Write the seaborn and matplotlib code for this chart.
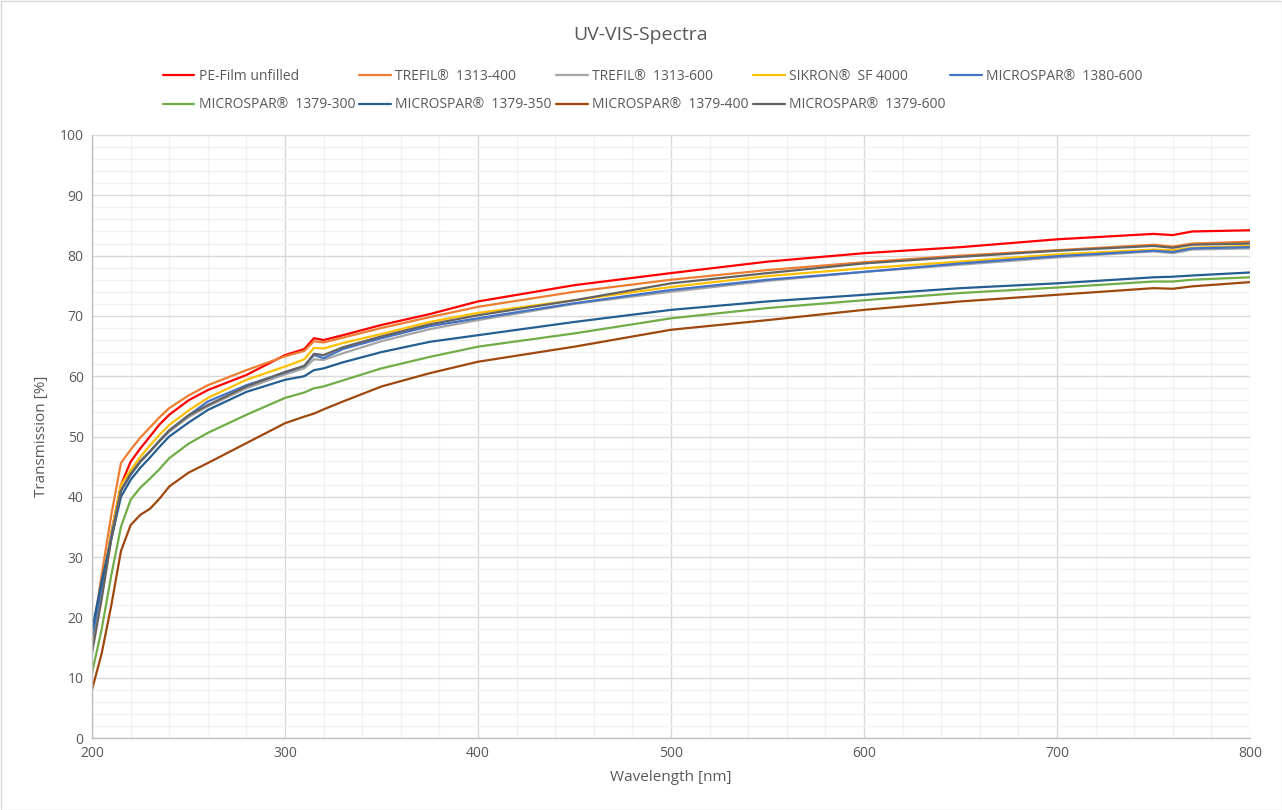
import pandas as pd
import matplotlib.pyplot as plt
import seaborn as sns
from matplotlib.ticker import MultipleLocator
from matplotlib.patches import Rectangle

wavelength = [200, 205, 210, 215, 220, 225, 230, 235, 240, 250, 260, 280, 300, 310, 315, 320, 330,
              350, 375, 400, 450, 500, 550, 600, 650, 700, 750, 760, 770, 800]

pe_film = [15, 24, 34, 42, 45.8, 48, 50, 52, 53.6, 56, 57.7, 60.2, 63.5, 64.5, 66.3, 66, 66.8,
           68.5, 70.3, 72.4, 75.1, 77.1, 79, 80.4, 81.4, 82.7, 83.6, 83.4, 84, 84.2]
trefil_400 = [16.5, 27, 37, 45.6, 47.8, 49.8, 51.5, 53.2, 54.7, 56.8, 58.5, 61, 63.3, 64.2, 65.8, 65.6, 66.4,
              68, 69.8, 71.5, 74, 76, 77.6, 78.9, 80, 80.9, 81.8, 81.5, 82, 82.3]
trefil_600 = [15.5, 24, 33, 41, 44, 46, 47.5, 49.2, 50.8, 53.2, 55, 58, 60.3, 61.3, 62.8, 62.7, 63.8,
              65.8, 67.8, 69.3, 72, 74, 75.8, 77.3, 78.5, 79.7, 80.7, 80.4, 81, 81.2]
sikron = [16.2, 25, 34, 42, 44.4, 46.6, 48.5, 50.3, 51.9, 54.3, 56.4, 59.4, 61.6, 62.8, 64.7, 64.6, 65.5,
          67, 69, 70.5, 72.6, 74.8, 76.6, 77.9, 79, 80.2, 81, 80.9, 81.3, 81.6]
micro_1380_600 = [16.5, 25, 33.5, 41, 43.6, 45.8, 47.5, 49.3, 51, 53.5, 55.8, 58.5, 60.6, 61.7, 63.5, 63, 64.5,
                  66.3, 68.3, 69.6, 72.1, 74.3, 76, 77.3, 78.7, 79.9, 80.8, 80.6, 81.2, 81.4]
micro_1379_300 = [10.8, 18, 27, 35, 39.5, 41.5, 43, 44.6, 46.4, 48.8, 50.6, 53.6, 56.4, 57.3, 58, 58.3, 59.3,
                  61.3, 63.2, 64.9, 67.1, 69.6, 71.3, 72.6, 73.8, 74.7, 75.7, 75.7, 76, 76.4]
micro_1379_350 = [17.9, 26, 33, 40, 42.8, 44.8, 46.5, 48.3, 50, 52.3, 54.4, 57.4, 59.4, 60, 61, 61.3, 62.3,
                  64, 65.7, 66.8, 69, 71, 72.4, 73.5, 74.6, 75.4, 76.4, 76.5, 76.7, 77.2]
micro_1379_400 = [8, 14, 22, 31, 35.3, 37, 38, 39.7, 41.7, 44, 45.6, 48.9, 52.2, 53.3, 53.8, 54.5, 55.8,
                  58.3, 60.5, 62.4, 64.9, 67.7, 69.3, 71, 72.4, 73.5, 74.6, 74.5, 74.9, 75.6]
micro_1379_600 = [14.1, 23, 33, 41, 43.8, 45.8, 47.5, 49.3, 51, 53.5, 55.2, 58.3, 60.7, 61.7, 63.7, 63.5, 64.8,
                  66.6, 68.6, 70.1, 72.6, 75.4, 77.1, 78.7, 79.8, 80.8, 81.6, 81.3, 81.8, 82]

series = {
    'PE-Film unfilled': pe_film,
    'TREFIL®  1313-400': trefil_400,
    'TREFIL®  1313-600': trefil_600,
    'SIKRON®  SF 4000': sikron,
    'MICROSPAR®  1380-600': micro_1380_600,
    'MICROSPAR®  1379-300': micro_1379_300,
    'MICROSPAR®  1379-350': micro_1379_350,
    'MICROSPAR®  1379-400': micro_1379_400,
    'MICROSPAR®  1379-600': micro_1379_600,
}
colors = ['#FF0000', '#ED7D31', '#A5A5A5', '#FFC000', '#4472C4',
          '#70AD47', '#255E91', '#9E480E', '#636363']

rows = []
for name, vals in series.items():
    for w, v in zip(wavelength, vals):
        rows.append({'Wavelength': w, 'Transmission': v, 'Sample': name})
df = pd.DataFrame(rows)

sns.set_theme(style='white')
plt.rcParams['font.family'] = ['Open Sans', 'DejaVu Sans']
txt = '#595959'

fig = plt.figure(figsize=(12.82, 8.1), dpi=100)
ax = fig.add_axes([92 / 1282, 1 - 738 / 810, (1250 - 92) / 1282, (738 - 135) / 810])

sns.lineplot(data=df, x='Wavelength', y='Transmission', hue='Sample',
             palette=colors, linewidth=1.6, ax=ax, legend=False)

ax.set_xlim(200, 800)
ax.set_ylim(0, 100)
ax.xaxis.set_major_locator(MultipleLocator(100))
ax.xaxis.set_minor_locator(MultipleLocator(20))
ax.yaxis.set_major_locator(MultipleLocator(10))
ax.yaxis.set_minor_locator(MultipleLocator(2))
ax.grid(which='major', color='#D9D9D9', linewidth=1.0)
ax.grid(which='minor', color='#F2F2F2', linewidth=1.0)
ax.set_axisbelow(True)
for s in ['top', 'right']:
    ax.spines[s].set_visible(False)
for s in ['left', 'bottom']:
    ax.spines[s].set_color('#BFBFBF')
    ax.spines[s].set_linewidth(1.0)
ax.tick_params(which='both', length=0, labelsize=10, colors=txt, pad=6)

ax.set_xlabel('Wavelength [nm]', fontsize=11, color=txt, labelpad=6)
ax.set_ylabel('Transmission [%]', fontsize=11, color=txt, labelpad=8)
fig.text(0.5, 1 - 35 / 810, 'UV-VIS-Spectra', ha='center', va='center', fontsize=14, color=txt)

# legend is filled column by column, so reorder to read row by row
names = list(series.keys())
order = [0, 5, 1, 6, 2, 7, 3, 8, 4]
handles = [plt.Line2D([], [], color=colors[i], linewidth=1.6) for i in order]
labels = [names[i] for i in order]
leg = fig.legend(handles, labels, ncol=5, loc='upper left',
                 bbox_to_anchor=(150 / 1282, 1 - 56 / 810), frameon=False,
                 fontsize=10, handlelength=2.3, columnspacing=0.3, handletextpad=0.3,
                 labelspacing=1.0)
for t in leg.get_texts():
    t.set_color(txt)

fig.patches.append(Rectangle((0.5 / 1282, 0.5 / 810), 1 - 1 / 1282, 1 - 1 / 810,
                             transform=fig.transFigure, fill=False,
                             edgecolor='#D9D9D9', linewidth=1))

fig.savefig('out.png', dpi=100)
